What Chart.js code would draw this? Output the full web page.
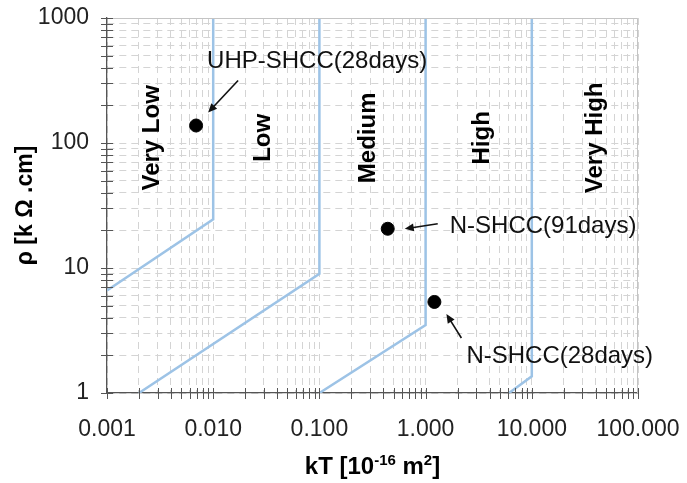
<!DOCTYPE html>
<html lang="en">
<head>
<meta charset="UTF-8">
<title>kT vs resistivity</title>
<script src="https://cdn.jsdelivr.net/npm/chart.js"></script>
<style>
  html, body { margin: 0; padding: 0; background: #fff; }
  .chart-box { width: 687px; height: 483px; position: relative; }
</style>
</head>
<body>
<div class="chart-box"><canvas id="kTChart"></canvas></div>
<script>
// Axis decades
const kTTicks = [0.001, 0.01, 0.1, 1, 10, 100];
const rhoTicks = [1, 10, 100, 1000];

// Class limits: sloped part, then straight up to the top of the chart
const limit1X = [0.001, 0.01, 0.01];
const limit1Y = [6.6, 24.5, 1000];
const limit2X = [0.002, 0.1, 0.1];
const limit2Y = [1, 9, 1000];
const limit3X = [0.1, 1, 1];
const limit3Y = [1, 3.5, 1000];
const limit4X = [6.1, 10, 10];
const limit4Y = [1, 1.36, 1000];

// Measured mixes
const mixNames = ['UHP-SHCC(28days)', 'N-SHCC(91days)', 'N-SHCC(28days)'];
const mixKT = [0.0069, 0.44, 1.21];
const mixRho = [138, 20.6, 5.35];

const classNames = ['Very Low', 'Low', 'Medium', 'High', 'Very High'];

const FONT = "'Liberation Sans', Arial, sans-serif";
const LIMIT_COLOR = '#9dc3e6';

// 1..9 steps inside every decade, for grid lines and small ticks
function logSteps(decades) {
  const out = [];
  decades.forEach((d, i) => {
    if (i === decades.length - 1) { out.push(d); return; }
    for (let k = 1; k <= 9; k++) out.push(+(d * k).toPrecision(6));
  });
  return out;
}

function toPoints(xs, ys) {
  return xs.map((x, i) => ({ x: x, y: ys[i] }));
}

function limitSet(xs, ys) {
  return {
    data: toPoints(xs, ys),
    showLine: true,
    borderColor: LIMIT_COLOR,
    borderWidth: 2.5,
    pointRadius: 0,
    tension: 0
  };
}

function arrow(ctx, x1, y1, x2, y2) {
  const ang = Math.atan2(y2 - y1, x2 - x1);
  const len = 9, half = 4;
  ctx.beginPath();
  ctx.moveTo(x1, y1);
  ctx.lineTo(x2 - Math.cos(ang) * len * 0.8, y2 - Math.sin(ang) * len * 0.8);
  ctx.stroke();
  ctx.beginPath();
  ctx.moveTo(x2, y2);
  ctx.lineTo(x2 - Math.cos(ang) * len + Math.sin(ang) * half, y2 - Math.sin(ang) * len - Math.cos(ang) * half);
  ctx.lineTo(x2 - Math.cos(ang) * len - Math.sin(ang) * half, y2 - Math.sin(ang) * len + Math.cos(ang) * half);
  ctx.closePath();
  ctx.fill();
}

// frame, crossing ticks, class names, callouts and the x title
const decorations = {
  id: 'decorations',
  afterDraw(chart) {
    const { ctx, chartArea: a, scales: { x, y } } = chart;
    ctx.save();

    ctx.strokeStyle = '#c4c4c4';
    ctx.lineWidth = 1;
    ctx.beginPath();
    ctx.moveTo(a.left, a.top + 0.5);
    ctx.lineTo(a.right - 0.5, a.top + 0.5);
    ctx.lineTo(a.right - 0.5, a.bottom);
    ctx.stroke();

    ctx.strokeStyle = '#555';
    ctx.lineWidth = 1;
    ctx.beginPath();
    x.ticks.forEach(t => {
      const px = Math.round(x.getPixelForValue(t.value)) + 0.5;
      ctx.moveTo(px, a.bottom - 5);
      ctx.lineTo(px, a.bottom + 6);
    });
    y.ticks.forEach(t => {
      const py = Math.round(y.getPixelForValue(t.value)) + 0.5;
      ctx.moveTo(a.left - 6, py);
      ctx.lineTo(a.left + 6, py);
    });
    ctx.stroke();

    // class names, written upwards
    const classAt = [0.0027, 0.03, 0.29, 3.4, 40];
    ctx.fillStyle = '#000';
    ctx.font = 'bold 24px ' + FONT;
    ctx.textAlign = 'center';
    ctx.textBaseline = 'middle';
    classNames.forEach((name, i) => {
      ctx.save();
      ctx.translate(x.getPixelForValue(classAt[i]), y.getPixelForValue(110));
      ctx.rotate(-Math.PI / 2);
      ctx.fillText(name, 0, 0);
      ctx.restore();
    });

    // callouts next to the measured points
    const pts = chart.getDatasetMeta(4).data;
    const callout = [
      { text: [11, -64], from: [42, -45], to: [12, -13] },
      { text: [62, -2], from: [50, -5], to: [17, 0] },
      { text: [32, 54], from: [27, 36], to: [12, 12] }
    ];
    ctx.font = '24px ' + FONT;
    ctx.textAlign = 'left';
    ctx.fillStyle = '#111';
    ctx.strokeStyle = '#111';
    ctx.lineWidth = 1.6;
    mixNames.forEach((name, i) => {
      const p = pts[i], c = callout[i];
      ctx.fillText(name, p.x + c.text[0], p.y + c.text[1]);
      arrow(ctx, p.x + c.from[0], p.y + c.from[1], p.x + c.to[0], p.y + c.to[1]);
    });

    // x title with superscripts
    const parts = [
      ['kT [10', 24, 0], ['-16', 15, -9], [' m', 24, 0], ['2', 15, -9], [']', 24, 0]
    ];
    let w = 0;
    parts.forEach(p => { ctx.font = 'bold ' + p[1] + 'px ' + FONT; w += ctx.measureText(p[0]).width; });
    let cx = (a.left + a.right) / 2 - w / 2;
    ctx.textBaseline = 'alphabetic';
    ctx.fillStyle = '#000';
    parts.forEach(p => {
      ctx.font = 'bold ' + p[1] + 'px ' + FONT;
      ctx.fillText(p[0], cx, 474 + p[2]);
      cx += ctx.measureText(p[0]).width;
    });

    ctx.restore();
  }
};

const gridDash = [7, 5];

new Chart(document.getElementById('kTChart'), {
  type: 'scatter',
  data: {
    datasets: [
      limitSet(limit1X, limit1Y),
      limitSet(limit2X, limit2Y),
      limitSet(limit3X, limit3Y),
      limitSet(limit4X, limit4Y),
      {
        data: toPoints(mixKT, mixRho),
        backgroundColor: '#000',
        borderColor: '#000',
        pointRadius: 6.5,
        pointHoverRadius: 6.5
      }
    ]
  },
  options: {
    responsive: true,
    maintainAspectRatio: false,
    animation: false,
    layout: { padding: { top: 18, right: 49, left: 0, bottom: 0 } },
    plugins: { legend: { display: false }, tooltip: { enabled: false } },
    scales: {
      x: {
        type: 'logarithmic',
        min: 0.001,
        max: 100,
        afterBuildTicks(scale) {
          scale.ticks = logSteps(kTTicks).map(v => ({ value: v, major: kTTicks.includes(v) }));
        },
        afterFit(scale) {
          scale.height = 90;
          scale.paddingLeft = 0;
          scale.paddingRight = 0;
        },
        ticks: {
          autoSkip: false,
          maxRotation: 0,
          padding: 23,
          color: '#222',
          font: { family: FONT, size: 23 },
          callback: v => kTTicks.includes(v) ? v.toFixed(3) : ''
        },
        grid: { color: '#d4d4d4', lineWidth: 1, drawTicks: false },
        border: { color: '#555', width: 1.3, dash: gridDash }
      },
      y: {
        type: 'logarithmic',
        min: 1,
        max: 1000,
        afterBuildTicks(scale) {
          scale.ticks = logSteps(rhoTicks).map(v => ({ value: v, major: rhoTicks.includes(v) }));
        },
        afterFit(scale) {
          scale.width = 107;
          scale.paddingTop = 0;
          scale.paddingBottom = 0;
        },
        ticks: {
          autoSkip: false,
          padding: 18,
          color: '#222',
          font: { family: FONT, size: 23 },
          callback: v => rhoTicks.includes(v) ? String(v) : ''
        },
        grid: { color: '#d4d4d4', lineWidth: 1, drawTicks: false },
        border: { color: '#555', width: 1.3, dash: gridDash },
        title: {
          display: true,
          text: 'ρ [k Ω .cm]',
          color: '#000',
          padding: { top: 12, bottom: 0 },
          font: { family: FONT, size: 23, weight: 'bold' }
        }
      }
    }
  },
  plugins: [decorations]
});
</script>
</body>
</html>
